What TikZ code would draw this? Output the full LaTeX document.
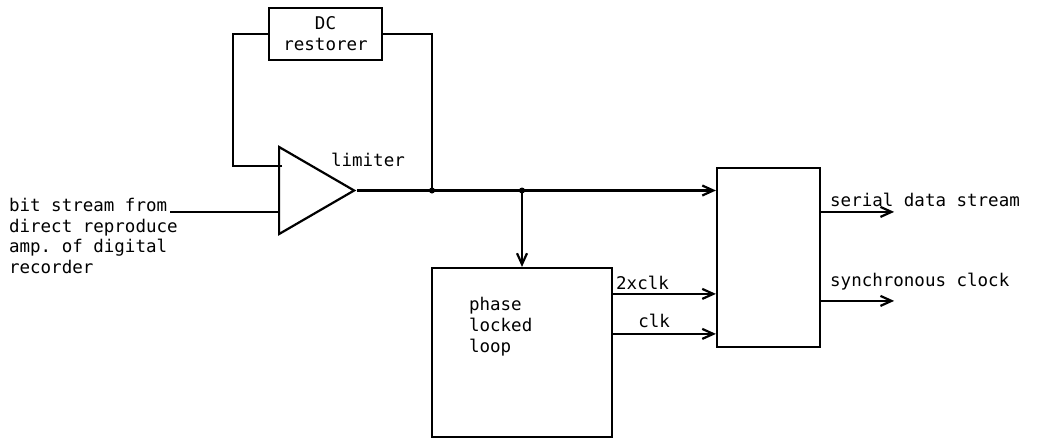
\documentclass[tikz,border=0pt]{standalone}
\usepackage{fontspec}
\setmonofont{DejaVu Sans Mono}
\usetikzlibrary{shapes.geometric, arrows.meta, positioning, calc}

\begin{document}
\begin{tikzpicture}[
    x=1pt, y=-1pt,
    line width=2.2pt,
    font=\ttfamily\fontsize{17.5}{20.8}\selectfont,
    box/.style={rectangle, draw=black, inner sep=0pt},
    limtri/.style={isosceles triangle, isosceles triangle stretches, draw=black, inner sep=0pt, minimum width=87pt, minimum height=75pt},
    txt/.style={inner sep=0pt, align=left},
    arrow/.style={-{Straight Barb[length=11pt, width=10pt]}},
    dot/.style={circle, fill=black, inner sep=0pt, minimum size=6pt}
]
\useasboundingbox (0,0) rectangle (1038,439);
% ---------------- BLOCKS ----------------
\node[box, minimum width=113pt, minimum height=52pt, align=center] (dcr) at (325.5,34) {DC\\restorer};
\node[limtri, anchor=apex] (lim) at (357,190.5) {};
\node[txt, anchor=south west] (limtxt) at (330,168) {limiter};
\node[box, minimum width=180pt, minimum height=169pt] (pll) at (522,352.5) {};
\node[txt, anchor=north west] (plltxt) at (468,296) {phase\\locked\\loop};
\node[box, minimum width=103pt, minimum height=179pt] (sync) at (768.5,257.5) {};
% ---------------- INPUT ----------------
\node[txt, anchor=north west] (src) at (8,197) {bit stream from\\direct reproduce\\amp. of digital\\recorder};
\coordinate (srcend) at (170,212);
\draw (srcend) -- (srcend -| lim.lower side);
% ---------------- FEEDBACK LOOP ----------------
\coordinate (fbk) at (282,166);
\coordinate (j1) at (432,190.5);
\coordinate (j2) at (522,190.5);
\draw (fbk) -- ++(-49,0) |- (dcr.west);
\draw (dcr.east) -| (j1);
\node[dot] at (j1) {};
\node[dot] at (j2) {};
% ---------------- SIGNAL PATH ----------------
\draw[arrow] (lim.apex) -- (lim.apex -| sync.west);
\draw[arrow] (j2) -- (pll.north);
\path (pll.north east) ++(0,27) coordinate (c2x);
\path (pll.north east) ++(0,67) coordinate (c1x);
\draw[arrow] (c2x) -- node[above right, pos=0, xshift=2pt, yshift=3pt, inner sep=0pt] {2xclk} (c2x -| sync.west);
\draw[arrow] (c1x) -- node[above, pos=0.4, yshift=5pt, inner sep=0pt] {clk} (c1x -| sync.west);
% ---------------- OUTPUTS ----------------
\path (sync.north east) ++(0,45) coordinate (dataout);
\path (sync.north east) ++(0,134) coordinate (clkout);
\draw[arrow] (dataout) -- node[above right, pos=0, xshift=8pt, yshift=4pt, inner sep=0pt] {serial data stream} ++(73,0);
\draw[arrow] (clkout) -- node[above right, pos=0, xshift=8pt, yshift=10pt, inner sep=0pt] {synchronous clock} ++(73,0);
\end{tikzpicture}
\end{document}
